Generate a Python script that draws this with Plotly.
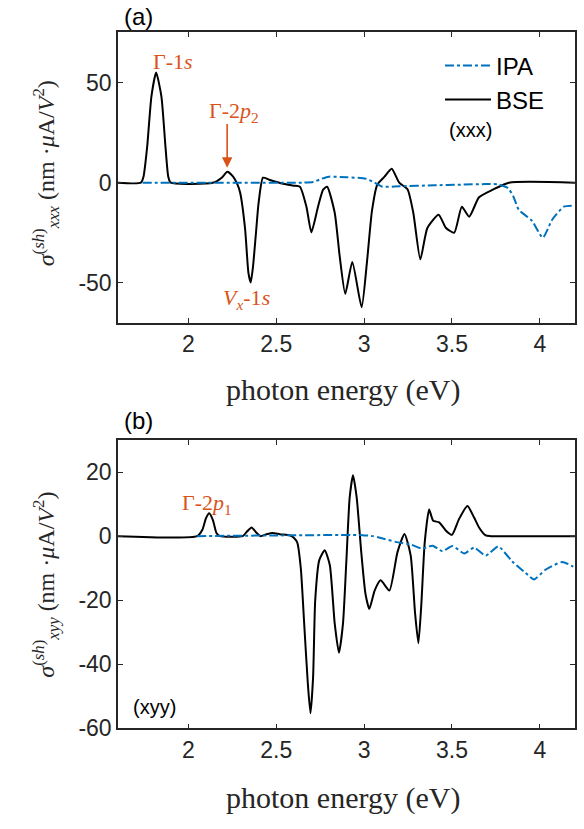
import plotly.graph_objects as go

# ---------------- data: panel (a) xxx ----------------
bse_a_x = [1.60, 1.73, 1.745, 1.766, 1.79, 1.817, 1.847, 1.87, 1.886, 1.90, 2.14, 2.19, 2.222, 2.255,
           2.28, 2.295, 2.323, 2.342, 2.355, 2.368, 2.385, 2.40, 2.425, 2.46, 2.54, 2.60, 2.635, 2.672,
           2.70, 2.738, 2.767, 2.79, 2.833, 2.861, 2.893, 2.933, 2.986, 3.016, 3.045, 3.075, 3.116,
           3.157, 3.20, 3.247, 3.28, 3.32, 3.36, 3.424, 3.466, 3.513, 3.556, 3.598, 3.654, 3.73, 3.824, 4.20]
bse_a_y = [0, 0, 3, 18, 43, 55, 43, 18, 3, 0, 0, 2.5, 5.4, 3,
           -1, -5, -23, -45, -49.8, -42, -25, -10, 2.5, 1.5, -0.5, -1.5, -2, -12,
           -24.8, -12, -3.5, -2, -15, -36.6, -55.5, -39.6, -62.2, -40, -14, -1, 3,
           7, 0, -3.3, -15, -38.3, -22.6, -16, -22.6, -25, -12, -17, -7.3, -3.6, 0, 0]

ipa_a_x = [1.74, 2.65, 2.71, 2.76, 2.80, 2.90, 3.01, 3.06, 3.105, 3.20, 3.40, 3.55, 3.69, 3.76, 3.82,
           3.85, 3.88, 3.955, 4.017, 4.07, 4.136, 4.19]
ipa_a_y = [0, 0, 0.3, 2, 3, 2.7, 2, 0, -2, -1.8, -1.3, -1, -0.7, -0.8, -2.8,
           -7, -13.5, -19, -27.5, -18.5, -12, -11.5]

# ---------------- data: panel (b) xyy ----------------
bse_b_x = [1.60, 2.05, 2.08, 2.10, 2.119, 2.14, 2.16, 2.18, 2.31, 2.335, 2.36, 2.385, 2.41, 2.445, 2.48,
           2.52, 2.58, 2.60, 2.62, 2.64, 2.66, 2.68, 2.695, 2.71, 2.722, 2.745, 2.776, 2.805, 2.833,
           2.857, 2.88, 2.899, 2.918, 2.937, 2.958, 2.984, 3.008, 3.03, 3.06, 3.094, 3.144, 3.19,
           3.23, 3.265, 3.29, 3.309, 3.325, 3.345, 3.37, 3.393, 3.427, 3.466, 3.50, 3.54,
           3.588, 3.626, 3.654, 3.692, 3.72, 4.20]
bse_b_y = [0, 0, 2, 5.5, 7.1, 5, 1, 0, 0, 1.5, 2.7, 1.2, 0, 0.6, 1,
           0.6, 0.2, -0.5, -2, -10, -28, -46, -55.3, -44, -20, -7.5, -4.4, -9, -27.3,
           -36.4, -27.3, -8, 12, 19, 12, -5, -18, -22.7, -17, -13.8, -17, -5,
           0.7, -6, -24, -33.4, -22, -2, 8.3, 4.8, 4.3, 1.7, 0.4, 5.3,
           9.4, 5.8, 2.7, 0.2, 0, 0]

ipa_b_x = [2.05, 2.99, 3.05, 3.09, 3.18, 3.27, 3.33, 3.39, 3.446, 3.503, 3.569, 3.626, 3.692, 3.763,
           3.843, 3.919, 3.966, 4.032, 4.126, 4.19]
ipa_b_y = [0, 0.3, 0, -0.5, -1.8, -2.7, -3.9, -3, -4.7, -3.1, -5.4, -3.6, -6.1, -3.2,
           -7.9, -11.5, -13.5, -10.5, -8.1, -9.5]

x_ticks = [2, 2.5, 3, 3.5, 4]
x_tick_text = ["2", "2.5", "3", "3.5", "4"]
ya_ticks = [-50, 0, 50]
ya_tick_text = ["-50", "0", "50"]
yb_ticks = [-60, -40, -20, 0, 20]
yb_tick_text = ["-60", "-40", "-20", "0", "20"]

BLUE = "#0072BD"
ORANGE = "#D95319"
AXC = "#262626"
SANS = "Liberation Sans, Arial, sans-serif"
SERIF = "Liberation Serif, Times New Roman, serif"
SM = 0.55

fig = go.Figure()
fig.add_trace(go.Scatter(x=bse_a_x, y=bse_a_y, mode="lines", name="BSE",
                         line=dict(color="black", width=2, shape="spline", smoothing=SM),
                         xaxis="x", yaxis="y", legendrank=2))
fig.add_trace(go.Scatter(x=ipa_a_x, y=ipa_a_y, mode="lines", name="IPA",
                         line=dict(color=BLUE, width=2, dash="dashdot", shape="spline", smoothing=SM),
                         xaxis="x", yaxis="y", legendrank=1))
fig.add_trace(go.Scatter(x=bse_b_x, y=bse_b_y, mode="lines", name="BSE", showlegend=False,
                         line=dict(color="black", width=2, shape="spline", smoothing=SM),
                         xaxis="x2", yaxis="y2"))
fig.add_trace(go.Scatter(x=ipa_b_x, y=ipa_b_y, mode="lines", name="IPA", showlegend=False,
                         line=dict(color=BLUE, width=2, dash="dashdot", shape="spline", smoothing=SM),
                         xaxis="x2", yaxis="y2"))

W, H = 584, 829
xdom = [118 / W, 575 / W]
ya_dom = [1 - 328 / H, 1 - 33 / H]
yb_dom = [1 - 740 / H, 1 - 447 / H]

axis_common = dict(showline=True, linecolor=AXC, linewidth=1.5, mirror="ticks", ticks="inside",
                   ticklen=5, tickwidth=1.2, tickcolor=AXC, showgrid=False, zeroline=False,
                   tickfont=dict(family=SANS, size=23, color=AXC))

fig.update_layout(
    width=W, height=H, margin=dict(l=0, r=0, t=0, b=0),
    paper_bgcolor="white", plot_bgcolor="white",
    xaxis=dict(domain=xdom, range=[1.6, 4.2], anchor="y", tickvals=x_ticks, ticktext=x_tick_text,
               **axis_common),
    yaxis=dict(domain=ya_dom, range=[-70, 75], anchor="x", tickvals=ya_ticks, ticktext=ya_tick_text,
               **axis_common),
    xaxis2=dict(domain=xdom, range=[1.6, 4.2], anchor="y2", tickvals=x_ticks, ticktext=x_tick_text,
                **axis_common),
    yaxis2=dict(domain=yb_dom, range=[-60, 30], anchor="x2", tickvals=yb_ticks, ticktext=yb_tick_text,
                **axis_common),
    showlegend=True,
    legend=dict(x=440 / W, y=1 - 44 / H, xanchor="left", yanchor="top", bgcolor="rgba(0,0,0,0)",
                font=dict(family=SANS, size=24, color="black"), tracegroupgap=0,
                itemwidth=46),
)

def px(xp, yp):
    return xp / W, 1 - yp / H

ann = []
def add_text(text, xp, yp, size, family, color="black", angle=0):
    x, y = px(xp, yp)
    ann.append(dict(text=text, x=x, y=y, xref="paper", yref="paper", showarrow=False,
                    xanchor="center", yanchor="middle", textangle=angle,
                    font=dict(family=family, size=size, color=color)))

add_text("(a)", 138, 17, 24, SANS)
add_text("(b)", 138, 427, 24, SANS)
add_text("(xxx)", 470, 132, 20, SANS)
add_text("(xyy)", 154, 718, 20, SANS)
add_text("photon energy (eV)", 343, 396, 30, SERIF, AXC)
add_text("photon energy (eV)", 343, 811, 30, SERIF, AXC)
add_text("<i>σ</i><sup>(<i>sh</i>)</sup><sub><i>xxx</i></sub> (nm ·<i>μ</i>A/<i>V</i><sup>2</sup>)",
         46, 176, 24, SERIF, AXC, -90)
add_text("<i>σ</i><sup>(<i>sh</i>)</sup><sub><i>xyy</i></sub> (nm ·<i>μ</i>A/<i>V</i><sup>2</sup>)",
         46, 594, 24, SERIF, AXC, -90)

add_text("Γ-1<i>s</i>", 173, 62, 22, SERIF, ORANGE)
add_text("Γ-2<i>p</i><sub>2</sub>", 234, 114, 22, SERIF, ORANGE)
add_text("<i>V<sub>x</sub></i>-1<i>s</i>", 246, 304, 22, SERIF, ORANGE)
add_text("Γ-2<i>p</i><sub>1</sub>", 207, 512, 22, SERIF, ORANGE)

ann.append(dict(x=2.221, y=7.5, ax=2.221, ay=30, xref="x", yref="y", axref="x", ayref="y",
                text="", showarrow=True, arrowhead=2, arrowsize=1.3, arrowwidth=1.6,
                arrowcolor=ORANGE))

fig.update_layout(annotations=ann)
fig.write_html("out.html")
